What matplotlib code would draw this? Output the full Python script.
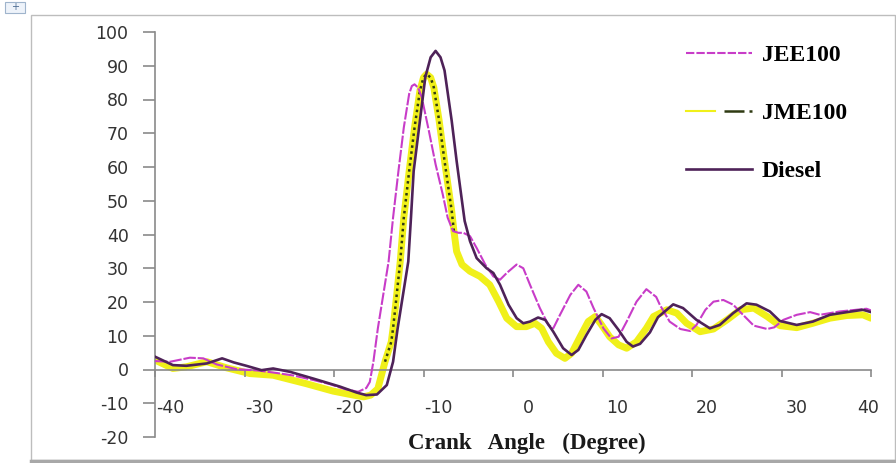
import numpy as np
import matplotlib.pyplot as plt
import matplotlib.transforms as mtransforms
from matplotlib.patches import Rectangle
from matplotlib.lines import Line2D
from matplotlib.legend_handler import HandlerTuple
from matplotlib.font_manager import FontProperties

plt.rcParams['axes.unicode_minus'] = False

# cylinder pressure vs crank angle for the three fuels
angle_jee = np.array([-40, -38.3, -36.1, -34.6, -33.1, -30.9, -28.5, -26.5, -24.5, -22.5, -20.5,
                      -18.8, -17.3, -16.4, -16.0, -15.6, -15.1, -14.5, -13.9, -13.4, -12.8, -12.2,
                      -11.6, -11.3, -11.0, -10.6, -10.2, -9.4, -8.65, -7.85, -7.3, -6.7, -6.1,
                      -5.55, -4.8, -4.06, -3.1, -2.2, -1.45, -0.7, 0.4, 1.15, 1.9, 3.0, 3.95, 4.5,
                      5.25, 6.4, 7.3, 8.2, 9.0, 10.1, 11.0, 11.8, 12.7, 13.8, 14.9, 16.0, 16.4,
                      17.5, 18.7, 19.8, 20.5, 21.5, 22.4, 23.5, 24.6, 25.7, 26.9, 28.4, 29.2,
                      30.2, 31.7, 33.2, 34.3, 36.5, 38.0, 39.5, 40])
p_jee = np.array([2.5, 2.3, 3.5, 3.3, 1.5, 0.1, -0.3, -1.0, -1.8, -3.0, -4.3,
                  -5.8, -6.6, -5.5, -3.7, 2.3, 12.2, 22.1, 32, 45, 58.8, 71.7,
                  81.7, 84.0, 84.5, 83.5, 80.7, 70.7, 60.8, 51.9, 45, 41, 40.5,
                  40.5, 39.5, 36, 31.1, 27.6, 26.6, 28.6, 31.1, 30, 25.1, 18.2, 13.2, 12.2,
                  16.2, 22.1, 25.1, 23.1, 18.2, 12.2, 9.2, 9.7, 14.2, 20.1, 23.8, 21.5, 19.2,
                  14.2, 12.0, 11.4, 13.2, 17.7, 20.1, 20.6, 19.2, 16.2, 13.0, 12.0, 12.5,
                  14.7, 16.2, 17.0, 16.2, 17.2, 17.6, 18.0, 17.5])

angle_jme = np.array([-40, -38, -36.5, -34.2, -32, -29.4, -26.8, -23.1, -20.1, -17.8, -16.7,
                      -15.9, -15.1, -14.3, -13.6, -13.4, -13.0, -12.6, -12.2, -11.6, -11.0,
                      -10.4, -10.0, -9.65, -9.2, -8.85, -8.25, -7.65, -6.85, -6.6, -6.3, -5.7,
                      -4.8, -3.7, -2.6, -1.6, -0.7, 0.4, 1.5, 2.45, 3.2, 3.95, 4.85, 5.8, 6.55,
                      7.5, 8.4, 9.2, 9.9, 10.8, 11.8, 12.7, 13.8, 14.9, 15.7, 17.2, 18.3, 19.4,
                      20.9, 22.4, 23.9, 25.4, 26.9, 28.4, 29.8, 31.7, 33.5, 35.4, 37.3, 39.1, 40])
p_jme = np.array([2.8, 0.3, 0.8, 2.3, 0.5, -1.2, -1.7, -4.2, -6.4, -7.6, -8.1,
                  -7.6, -5.7, 2.3, 8.2, 12.2, 22, 32, 45, 58.8, 71.7,
                  82.6, 86.5, 87.5, 86.5, 83.6, 73.7, 61.8, 47, 41, 35, 31.1,
                  29.1, 27.6, 25.1, 20.1, 15.2, 12.7, 12.7, 13.7, 12.2, 8.2, 4.8, 3.3, 4.8,
                  9.7, 14.2, 15.7, 13.2, 9.7, 7.3, 6.3, 8.2, 12.2, 15.7, 17.7, 16.7, 13.7,
                  11.2, 12.0, 14.7, 17.7, 18.2, 15.7, 13.0, 12.4, 13.7, 15.2, 16.0, 16.2, 15.2])

angle_diesel = np.array([-40, -38, -36.5, -34.2, -32.5, -31.2, -29.8, -28.1, -26.8, -24.9, -22.3,
                         -19.3, -17.5, -16.4, -15.2, -14.1, -13.4, -12.9, -12.3, -11.7, -11.4,
                         -11.1, -10.4, -9.8, -9.2, -8.65, -8.1, -7.65, -6.85, -6.3, -5.7, -5.4,
                         -4.8, -4.06, -2.95, -2.2, -1.45, -0.5, 0.41, 1.15, 1.9, 2.8, 3.6, 4.5,
                         5.6, 6.55, 7.3, 8.2, 9.2, 9.9, 10.8, 11.8, 12.7, 13.4, 14.2, 15.3, 16.2,
                         17.9, 19.0, 20.5, 22.0, 23.1, 24.6, 26.1, 27.2, 28.7, 29.8, 31.7, 33.5,
                         35.4, 37.3, 39.1, 40])
p_diesel = np.array([3.8, 1.3, 1.1, 1.8, 3.3, 2.1, 1.1, -0.2, 0.3, -0.7, -2.7,
                     -5.1, -6.8, -7.6, -7.4, -4.6, 2.3, 12, 22, 32, 45,
                     58.8, 73.7, 86.6, 92.5, 94.4, 92.5, 88.6, 73.7, 61.8, 49.9, 44,
                     38, 33, 30, 28.6, 25.1, 19.2, 15.2, 13.7, 14.2, 15.4, 14.7, 11.2,
                     6.3, 4.3, 5.8, 10.2, 14.7, 16.4, 15.2, 11.7, 8.2, 6.8, 7.6, 11.0, 15.5,
                     19.3, 18.2, 14.7, 12.2, 13.2, 16.7, 19.6, 19.2, 17.2, 14.4, 13.2, 14.2,
                     16.2, 17.0, 17.7, 17.0])

labels = ['JEE100', 'JME100', 'Diesel']
x_ticks = list(range(-40, 41, 10))
y_ticks = list(range(-20, 101, 10))

c_jee = '#c83cc8'
c_jme = '#f0f01a'
c_jme_dots = '#2f3a12'
c_diesel = '#4e2258'

fig = plt.figure(figsize=(8.96, 4.63), dpi=100)
W, H = 896, 463
ax = fig.add_axes([155 / W, 1 - 437 / H, (871 - 155) / W, (437 - 32) / H])

ax.plot(angle_jme, p_jme, color=c_jme, lw=5, solid_capstyle='round', solid_joinstyle='round', zorder=1)
steep = (angle_jme >= -14.5) & (angle_jme <= -6.5)
ax.plot(angle_jme[steep], p_jme[steep], color=c_jme_dots, lw=1.8, ls=(0, (1, 1.4)), zorder=2)
ax.plot(angle_jee, p_jee, color=c_jee, lw=1.5, ls=(0, (6, 0.9)), zorder=3)
ax.plot(angle_diesel, p_diesel, color=c_diesel, lw=1.9, zorder=4)

ax.set_xlim(-40, 40)
ax.set_ylim(-20, 100)
ax.set_xticks(x_ticks)
ax.set_yticks(y_ticks)
for s in ['top', 'right']:
    ax.spines[s].set_visible(False)
ax.spines['bottom'].set_position(('data', 0))
for s in ['bottom', 'left']:
    ax.spines[s].set_color('#8a8a8a')
    ax.spines[s].set_linewidth(1.2)
ax.tick_params(axis='x', direction='out', length=5, width=1.2, color='#8a8a8a',
               pad=16, labelsize=12.5, labelcolor='#333333')
ax.tick_params(axis='y', direction='out', length=9, width=1.2, color='#8a8a8a',
               pad=10, labelsize=12.5, labelcolor='#333333')

# x labels sit a little right of their ticks
xlabs = ax.get_xticklabels()
for i, lab in enumerate(xlabs):
    dx = 15 if i < len(xlabs) - 1 else -3
    lab.set_transform(lab.get_transform() + mtransforms.ScaledTranslation(dx / 100, 0, fig.dpi_scale_trans))

fig.text(527 / W, 1 - 443 / H, 'Crank   Angle   (Degree)', ha='center', va='center',
         family='Liberation Serif', weight='bold', fontsize=16.5, color='#1a1a1a')

h_jee = Line2D([], [], color=c_jee, lw=1.5, ls=(0, (4, 1)))
h_jme = (Line2D([], [], color=c_jme, lw=1.5),
         Line2D([], [], color=c_jme_dots, lw=1.8, ls=(0, (8, 2))))
h_diesel = Line2D([], [], color=c_diesel, lw=1.9)
fig.legend([h_jee, h_jme, h_diesel], labels, loc='upper left',
           bbox_to_anchor=(665 / W, 1 - 23 / H), frameon=False,
           prop=FontProperties(family='Liberation Serif', weight='bold', size=17),
           handlelength=2.8, labelspacing=1.55, handletextpad=0.4,
           handler_map={tuple: HandlerTuple(ndivide=None)})

# outer chart frame and anchor box
fig.patches.append(Rectangle((31 / W, 1 - 460 / H), (895 - 31) / W, (460 - 15) / H,
                             transform=fig.transFigure, fill=False, ec='#bdbdbd', lw=1))
fig.add_artist(Line2D([31 / W, 895 / W], [1 - 461 / H, 1 - 461 / H],
                      transform=fig.transFigure, color='#a8a8a8', lw=2.5))
fig.patches.append(Rectangle((5 / W, 1 - 13 / H), 20 / W, 11 / H,
                             transform=fig.transFigure, fill=True, fc='#eef3fa', ec='#9fb4cc', lw=0.8))
fig.text(15 / W, 1 - 7.5 / H, '+', ha='center', va='center', fontsize=7, color='#4a6a90')

fig.savefig('out.png', dpi=100)
